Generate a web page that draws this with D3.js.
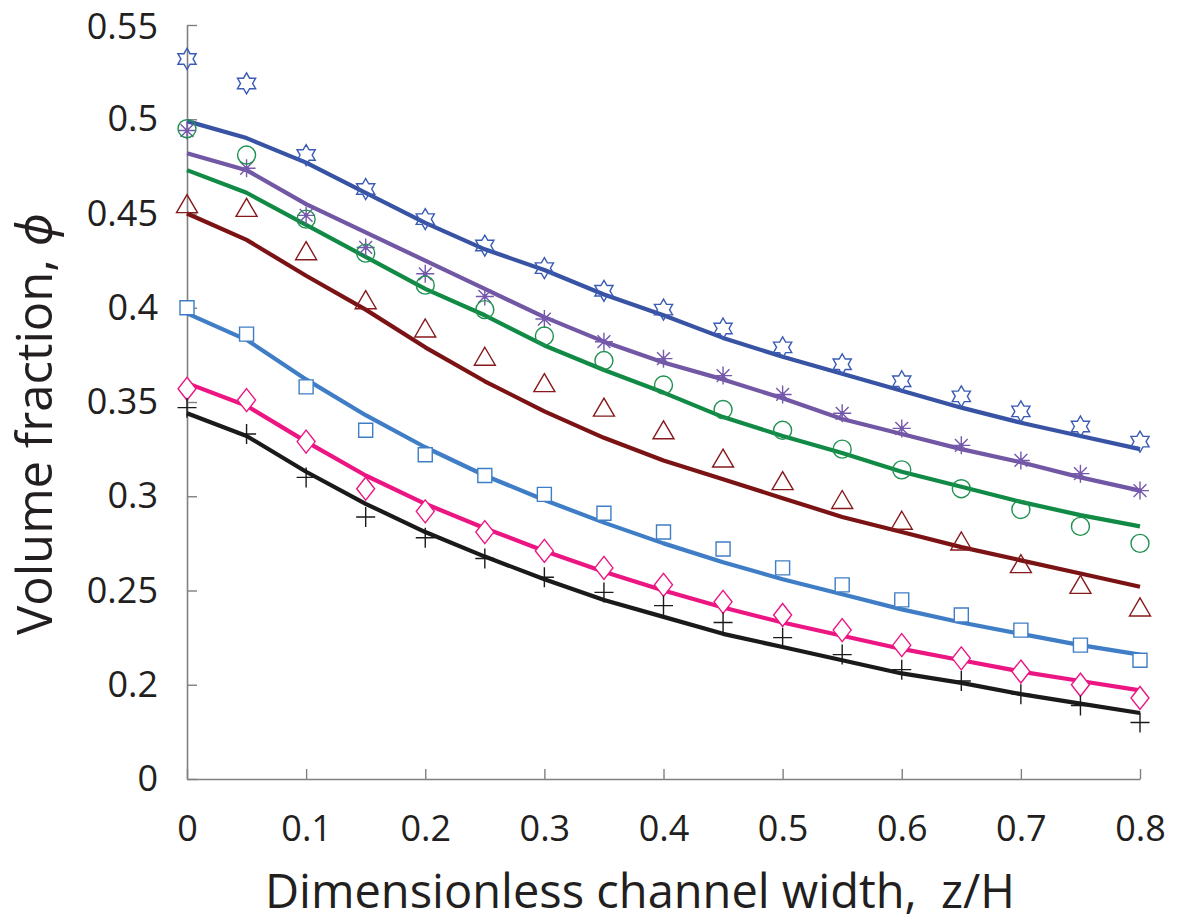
<!DOCTYPE html>
<html>
<head>
<meta charset="utf-8">
<script src="https://cdn.jsdelivr.net/npm/d3@7"></script>
<style>
  html, body { margin: 0; padding: 0; background: #fff; }
  svg { display: block; }
  text { font-family: "Open Sans", "Noto Sans", sans-serif; fill: #231f20; }
</style>
</head>
<body>
<svg id="chart" width="1187" height="922"></svg>
<script>
// Dimensionless channel width positions
const zH = [0, 0.05, 0.1, 0.15, 0.2, 0.25, 0.3, 0.35, 0.4, 0.45, 0.5, 0.55, 0.6, 0.65, 0.7, 0.75, 0.8];

// Measured volume fractions (markers)
const starPts    = [0.532, 0.519, 0.481, 0.463, 0.447, 0.433, 0.421, 0.409, 0.399, 0.389, 0.379, 0.370, 0.361, 0.353, 0.345, 0.337, 0.329];
const asterPts   = [0.494, 0.474, 0.449, 0.432, 0.418, 0.406, 0.394, 0.382, 0.373, 0.364, 0.354, 0.344, 0.336, 0.327, 0.319, 0.312, 0.303];
const circlePts  = [0.495, 0.481, 0.447, 0.429, 0.412, 0.399, 0.385, 0.372, 0.359, 0.346, 0.335, 0.325, 0.314, 0.304, 0.293, 0.284, 0.275];
const trianglePts= [0.455, 0.453, 0.430, 0.404, 0.389, 0.374, 0.360, 0.347, 0.335, 0.320, 0.308, 0.298, 0.287, 0.276, 0.264, 0.253, 0.241];
const squarePts  = [0.400, 0.386, 0.358, 0.335, 0.322, 0.311, 0.301, 0.291, 0.281, 0.272, 0.262, 0.253, 0.245, 0.237, 0.229, 0.221, 0.213];
const diamondPts = [0.357, 0.351, 0.329, 0.304, 0.292, 0.281, 0.271, 0.262, 0.253, 0.244, 0.237, 0.229, 0.221, 0.214, 0.207, 0.200, 0.193];
const plusPts    = [0.347, 0.333, 0.310, 0.289, 0.278, 0.267, 0.257, 0.249, 0.242, 0.233, 0.225, 0.216, 0.208, 0.202, 0.195, 0.189, 0.180];

// Model predictions (solid curves)
const starLine    = [0.499, 0.490, 0.477, 0.461, 0.445, 0.431, 0.420, 0.407, 0.396, 0.384, 0.374, 0.365, 0.356, 0.347, 0.339, 0.332, 0.325];
const asterLine   = [0.482, 0.473, 0.455, 0.440, 0.425, 0.410, 0.395, 0.382, 0.371, 0.362, 0.352, 0.341, 0.333, 0.325, 0.318, 0.310, 0.303];
const circleLine  = [0.473, 0.461, 0.444, 0.427, 0.410, 0.396, 0.380, 0.367, 0.355, 0.342, 0.332, 0.323, 0.313, 0.305, 0.297, 0.290, 0.284];
const triangleLine= [0.450, 0.436, 0.417, 0.399, 0.379, 0.361, 0.345, 0.331, 0.319, 0.309, 0.299, 0.289, 0.281, 0.273, 0.266, 0.259, 0.252];
const squareLine  = [0.397, 0.383, 0.362, 0.343, 0.326, 0.311, 0.298, 0.286, 0.275, 0.265, 0.256, 0.248, 0.240, 0.233, 0.227, 0.221, 0.216];
const diamondLine = [0.360, 0.348, 0.329, 0.311, 0.296, 0.283, 0.271, 0.260, 0.250, 0.241, 0.233, 0.226, 0.219, 0.213, 0.207, 0.202, 0.197];
const plusLine    = [0.344, 0.332, 0.313, 0.296, 0.281, 0.268, 0.256, 0.245, 0.236, 0.227, 0.220, 0.213, 0.206, 0.201, 0.195, 0.190, 0.185];

// Axis ticks (the lowest y tick marks the broken axis origin)
const xTicks = [0, 0.1, 0.2, 0.3, 0.4, 0.5, 0.6, 0.7, 0.8];
const xTickLabels = ["0", "0.1", "0.2", "0.3", "0.4", "0.5", "0.6", "0.7", "0.8"];
const yTicks = [0.15, 0.2, 0.25, 0.3, 0.35, 0.4, 0.45, 0.5, 0.55];
const yTickLabels = ["0", "0.2", "0.25", "0.3", "0.35", "0.4", "0.45", "0.5", "0.55"];

const series = [
  { pts: starPts,     line: starLine,     shape: "star",     lineColor: "#3853a4", markColor: "#3a5bb5" },
  { pts: asterPts,    line: asterLine,    shape: "asterisk", lineColor: "#7257a5", markColor: "#7459ad" },
  { pts: circlePts,   line: circleLine,   shape: "circle",   lineColor: "#118a45", markColor: "#1f9150" },
  { pts: trianglePts, line: triangleLine, shape: "triangle", lineColor: "#7b1315", markColor: "#86191c" },
  { pts: squarePts,   line: squareLine,   shape: "square",   lineColor: "#3f7ec6", markColor: "#3f7ec6" },
  { pts: diamondPts,  line: diamondLine,  shape: "diamond",  lineColor: "#ec1683", markColor: "#ec1683" },
  { pts: plusPts,     line: plusLine,     shape: "plus",     lineColor: "#1a1a1a", markColor: "#1a1a1a" }
];

const svg = d3.select("#chart");
const x = d3.scaleLinear().domain([0, 0.8]).range([187, 1140]);
const y = d3.scaleLinear().domain([0.15, 0.55]).range([779, 25]);

// Marker outlines centred on the origin
function hexagram(R) {
  const r = R / Math.sqrt(3);
  const p = [];
  for (let k = 0; k < 12; k++) {
    const a = -Math.PI / 2 + k * Math.PI / 6;
    const rad = k % 2 === 0 ? R : r;
    p.push([rad * Math.cos(a), rad * Math.sin(a)]);
  }
  return "M" + p.map(d => d.join(",")).join("L") + "Z";
}
const shapePath = {
  star: hexagram(10.5),
  asterisk: "M-9,0H9M0,-9V9M-6.4,-6.4L6.4,6.4M-6.4,6.4L6.4,-6.4",
  circle: "M9,0A9,9 0 1,1 -9,0A9,9 0 1,1 9,0Z",
  triangle: "M0,-9.5L10.5,8.5L-10.5,8.5Z",
  square: "M-7,-7H7V7H-7Z",
  diamond: "M0,-11.5L9,0L0,11.5L-9,0Z",
  plus: "M-9.5,0H9.5M0,-10V10"
};

// Axes
const yAxis = d3.axisLeft(y)
  .tickValues(yTicks)
  .tickFormat((d, i) => yTickLabels[i])
  .tickSizeInner(-10)
  .tickSizeOuter(0)
  .tickPadding(29);
const xAxis = d3.axisBottom(x)
  .tickValues(xTicks)
  .tickFormat((d, i) => xTickLabels[i])
  .tickSizeInner(-10)
  .tickSizeOuter(0)
  .tickPadding(36);

const gy = svg.append("g").attr("transform", "translate(187,0)").call(yAxis);
const gx = svg.append("g").attr("transform", "translate(0,779)").call(xAxis);
[gx, gy].forEach(g => {
  g.select(".domain").attr("stroke", "#808080").attr("stroke-width", 1.6);
  g.selectAll(".tick line").attr("stroke", "#808080").attr("stroke-width", 1.4);
  g.selectAll(".tick text")
    .attr("fill", "#231f20")
    .style("font-family", "'Open Sans', 'Noto Sans', sans-serif")
    .style("font-size", "36px");
});
// keep the topmost label clear of the page edge
gy.selectAll(".tick text").filter((d, i) => i === yTicks.length - 1).attr("dy", "0.38em");

// Model curves
const lineGen = d3.line().x((d, i) => x(zH[i])).y(d => y(d));
svg.append("g").selectAll("path")
  .data(series)
  .join("path")
  .attr("d", s => lineGen(s.line))
  .attr("fill", "none")
  .attr("stroke", s => s.lineColor)
  .attr("stroke-width", 4.2)
  .attr("stroke-linejoin", "round");

// Measured points
series.forEach(s => {
  const filled = s.shape === "square" || s.shape === "diamond";
  svg.append("g").selectAll("path")
    .data(s.pts)
    .join("path")
    .attr("transform", (d, i) => `translate(${x(zH[i])},${y(d)})`)
    .attr("d", shapePath[s.shape])
    .attr("fill", filled ? "#fff" : "none")
    .attr("stroke", s.markColor)
    .attr("stroke-width", 1.4);
  if (s.shape === "asterisk") {
    svg.append("g").selectAll("circle")
      .data(s.pts)
      .join("circle")
      .attr("cx", (d, i) => x(zH[i]))
      .attr("cy", d => y(d))
      .attr("r", 2.2)
      .attr("fill", s.markColor);
  }
});

// Axis titles
svg.append("text")
  .attr("x", 640)
  .attr("y", 908)
  .attr("text-anchor", "middle")
  .style("font-size", "47px")
  .style("white-space", "pre")
  .text("Dimensionless channel width,  z/H");

const yTitle = svg.append("text")
  .attr("transform", "translate(52,424) rotate(-90)")
  .attr("text-anchor", "middle")
  .style("font-size", "49px");
yTitle.append("tspan").text("Volume fraction, ");
yTitle.append("tspan").style("font-style", "italic").text("ϕ");
</script>
</body>
</html>
